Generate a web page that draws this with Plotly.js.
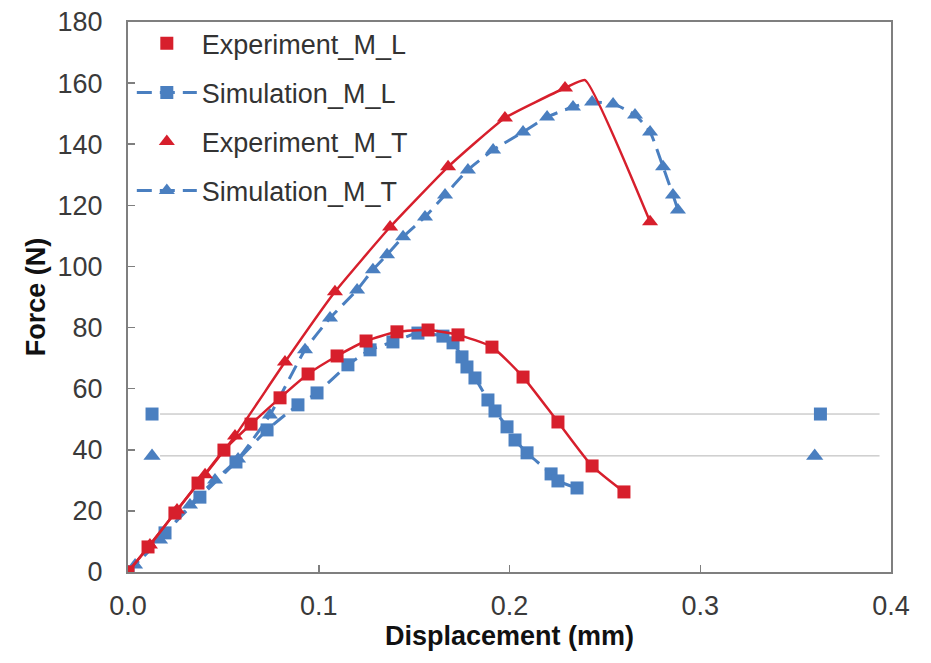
<!DOCTYPE html>
<html>
<head>
<meta charset="utf-8">
<script src="https://cdn.plot.ly/plotly-3.0.1.min.js"></script>
<style>html,body{margin:0;padding:0;background:#fff;}#chart{width:931px;height:663px;}</style>
</head>
<body>
<div id="chart"></div>
<script>
// ---- Data (displacement in mm, force in N) ----
var expML_x = [0, 0.0105, 0.0246, 0.0367, 0.0503, 0.0645, 0.0797, 0.0944, 0.1096, 0.1248, 0.1410, 0.1573, 0.1730, 0.1908, 0.2071, 0.2254, 0.2433, 0.2600];
var expML_y = [0, 8.2, 19.3, 29.1, 39.9, 48.4, 57.0, 64.8, 70.7, 75.6, 78.6, 79.2, 77.6, 73.6, 63.8, 49.1, 34.7, 26.2];

var simML_x = [0, 0.0194, 0.0377, 0.0566, 0.0729, 0.0891, 0.0991, 0.1153, 0.1269, 0.1389, 0.1520, 0.1651, 0.1704, 0.1751, 0.1777, 0.1819, 0.1887, 0.1924, 0.1987, 0.2029, 0.2092, 0.2218, 0.2254, 0.2354];
var simML_y = [0, 12.8, 24.5, 36.0, 46.5, 54.7, 58.6, 67.8, 72.7, 75.3, 78.2, 77.2, 75.0, 70.4, 67.1, 63.5, 56.3, 52.7, 47.5, 43.2, 39.0, 32.1, 29.8, 27.5];

// Experiment_M_T: marked points and the curve through them (curve includes the unmarked peak)
var expMT_x = [0, 0.0115, 0.0257, 0.0404, 0.0561, 0.0823, 0.1085, 0.1374, 0.1678, 0.1976, 0.2291, 0.2737];
var expMT_y = [0, 8.8, 20.3, 31.8, 44.5, 68.7, 91.7, 112.9, 132.6, 148.6, 158.4, 114.6];
var expMT_curve_x = [0, 0.0115, 0.0257, 0.0404, 0.0561, 0.0823, 0.1085, 0.1374, 0.1678, 0.1976, 0.2291, 0.2396, 0.2737];
var expMT_curve_y = [0, 8.8, 20.3, 31.8, 44.5, 68.7, 91.7, 112.9, 132.6, 148.6, 158.4, 161.0, 114.6];

var simMT_x = [0, 0.0037, 0.0168, 0.0325, 0.0456, 0.0577, 0.0744, 0.0928, 0.1059, 0.1201, 0.1284, 0.1358, 0.1442, 0.1557, 0.1662, 0.1782, 0.1914, 0.2071, 0.2197, 0.2333, 0.2433, 0.2543, 0.2658, 0.2737, 0.2805, 0.2857, 0.2883];
var simMT_y = [0, 2.3, 10.5, 21.9, 30.1, 37.0, 51.4, 72.7, 83.1, 92.3, 98.9, 103.8, 109.7, 116.2, 123.4, 131.6, 138.1, 144.0, 148.9, 152.2, 153.8, 153.2, 149.6, 144.0, 132.6, 123.4, 118.5];

// stray markers and guide lines present in the original figure
var strayML_x = [0.0126, 0.363];
var strayML_y = [51.7, 51.7];
var strayMT_x = [0.0126, 0.360];
var strayMT_y = [38.0, 38.0];
var guide_x = [0.0168, 0.394];
var guideML_y = [51.7, 51.7];
var guideMT_y = [38.0, 38.0];

var seriesNames = ['Experiment_M_L', 'Simulation_M_L', 'Experiment_M_T', 'Simulation_M_T'];

var RED = '#d71f2c';
var BLUE = '#4a7fc0';

var traces = [
  {x: guide_x, y: guideML_y, mode: 'lines', line: {color: '#b4b4b4', width: 1}, showlegend: false, hoverinfo: 'skip'},
  {x: guide_x, y: guideMT_y, mode: 'lines', line: {color: '#b4b4b4', width: 1}, showlegend: false, hoverinfo: 'skip'},
  {x: strayML_x, y: strayML_y, mode: 'markers', marker: {symbol: 'square', size: 13, color: BLUE}, showlegend: false},
  {x: strayMT_x, y: strayMT_y, mode: 'markers', marker: {symbol: 'triangle-up', size: 15, color: BLUE}, showlegend: false},
  // curves
  {x: simMT_x, y: simMT_y, mode: 'lines+markers', name: seriesNames[3], legendgroup: 'd', legendrank: 4,
   line: {color: BLUE, width: 3, dash: '15px,8px', shape: 'spline', smoothing: 0.5},
   marker: {symbol: 'triangle-up', size: 14, color: BLUE}},
  {x: simML_x, y: simML_y, mode: 'lines+markers', name: seriesNames[1], legendgroup: 'b', legendrank: 2,
   line: {color: BLUE, width: 3, dash: '15px,8px', shape: 'spline', smoothing: 0.5},
   marker: {symbol: 'square', size: 13, color: BLUE}},
  {x: expMT_curve_x, y: expMT_curve_y, mode: 'lines', showlegend: false, legendgroup: 'c',
   line: {color: RED, width: 2.5, shape: 'spline', smoothing: 0.4}},
  {x: expMT_x, y: expMT_y, mode: 'markers', name: seriesNames[2], legendgroup: 'c', legendrank: 3,
   marker: {symbol: 'triangle-up', size: 14, color: RED}},
  {x: expML_x, y: expML_y, mode: 'lines', showlegend: false, legendgroup: 'a',
   line: {color: RED, width: 2.5, shape: 'spline', smoothing: 0.6}},
  {x: expML_x, y: expML_y, mode: 'markers', name: seriesNames[0], legendgroup: 'a', legendrank: 1,
   marker: {symbol: 'square', size: 13, color: RED}}
];

var FAM = 'Liberation Sans, Arial, sans-serif';
var tickFont = {family: FAM, size: 27, color: '#3a3a3a'};
var titleFont = {family: FAM, size: 27, color: '#111', weight: 'bold'};

var layout = {
  width: 931, height: 663,
  margin: {l: 128, r: 40, t: 22, b: 91},
  paper_bgcolor: '#fff', plot_bgcolor: '#fff',
  xaxis: {
    range: [0, 0.4], dtick: 0.1, tick0: 0, tickformat: '.1f',
    ticks: 'inside', ticklen: 7, tickcolor: '#7f7f7f', tickwidth: 1.5,
    showline: true, linecolor: '#7f7f7f', linewidth: 2, mirror: true,
    showgrid: false, zeroline: false, tickfont: tickFont, ticklabelstandoff: 9,
    title: {text: 'Displacement (mm)', font: titleFont, standoff: 5}
  },
  yaxis: {
    range: [0, 180], dtick: 20, tick0: 0,
    ticks: 'inside', ticklen: 7, tickcolor: '#7f7f7f', tickwidth: 1.5,
    showline: true, linecolor: '#7f7f7f', linewidth: 2, mirror: true,
    showgrid: false, zeroline: false, tickfont: tickFont, ticklabelstandoff: 18,
    title: {text: 'Force (N)', font: titleFont, standoff: 4}
  },
  legend: {
    x: 0.005, y: 1.005, xanchor: 'left', yanchor: 'top',
    bgcolor: 'rgba(0,0,0,0)', borderwidth: 0,
    font: {family: FAM, size: 27, color: '#333'},
    traceorder: 'grouped', tracegroupgap: 11, itemwidth: 60
  },
  showlegend: true
};

Plotly.newPlot('chart', traces, layout, {displayModeBar: false, staticPlot: true});
</script>
</body>
</html>
